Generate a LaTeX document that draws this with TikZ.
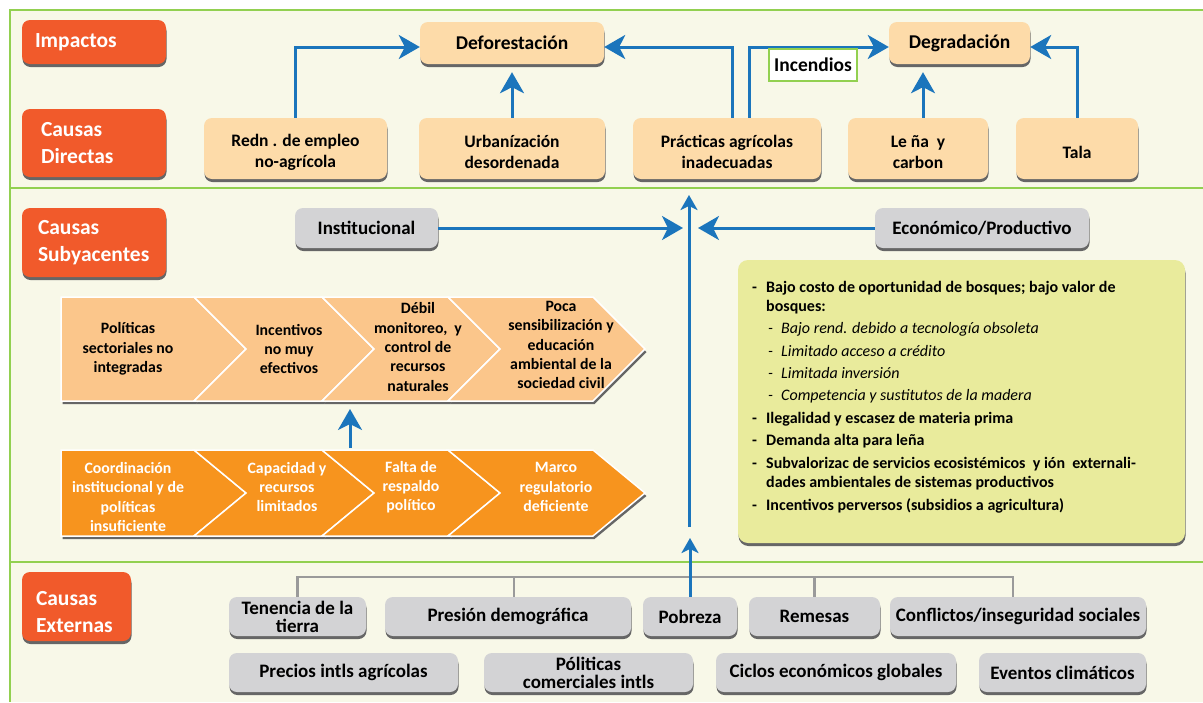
\documentclass[tikz,border=0pt]{standalone}
\usepackage{fontspec}
\setmainfont{Carlito}
\usetikzlibrary{arrows.meta,shadows}
\definecolor{bgc}{HTML}{F8F8E8}
\definecolor{gc}{HTML}{92D050}
\definecolor{lblc}{HTML}{F15A2B}
\definecolor{peachc}{HTML}{FDDBA9}
\definecolor{grayc}{HTML}{D3D3D5}
\definecolor{bluec}{HTML}{1B75BC}
\definecolor{chA}{HTML}{FBC68B}
\definecolor{chB}{HTML}{F7941E}
\definecolor{listc}{HTML}{E9EB9C}
\definecolor{shc}{HTML}{666666}
\definecolor{brc}{HTML}{9A9A9A}
\newcommand\dcstrut{\rule{0pt}{19.5pt}}
\newcommand\exstrut{\rule{0pt}{26pt}}
\tikzset{
  myshadow/.style={general shadow={fill=shc, shadow yshift=-3pt, shadow xshift=0.5pt}},
  gline/.style={draw=gc, line width=2pt},
  lbl/.style={rectangle, rounded corners=8pt, fill=lblc, text=white, align=left,
    font=\fontsize{21.5}{27}\selectfont\bfseries, inner ysep=0pt, myshadow},
  peach/.style={rectangle, rounded corners=8pt, fill=peachc, align=center, inner sep=0pt,
    font=\fontsize{17.5}{21}\selectfont\bfseries, myshadow},
  bigpeach/.style={peach, font=\fontsize{19.5}{22}\selectfont\bfseries},
  grayb/.style={rectangle, rounded corners=8pt, fill=grayc, align=center, inner sep=0pt,
    font=\fontsize{19}{18}\selectfont\bfseries, myshadow},
  chtxt/.style={align=center, inner sep=0pt, font=\fontsize{15.8}{19.3}\selectfont\bfseries},
  barrow/.style={draw=bluec, line width=3pt, -{Stealth[length=21pt,width=24pt,inset=6pt]}},
  sarrow/.style={draw=bluec, line width=3pt, -{Stealth[length=15pt,width=17pt,inset=4pt]}},
  grayl/.style={draw=brc, line width=2.5pt},
  lt/.style={anchor=base west, inner sep=0pt, font=\fontsize{16}{17}\selectfont\bfseries},
  lti/.style={anchor=base west, inner sep=0pt, font=\fontsize{16}{17}\selectfont\itshape},
}
\begin{document}
\begin{tikzpicture}[x=1pt,y=-1pt]
\useasboundingbox (0,0) rectangle (1203,702);
\fill[bgc] (10,10) rectangle (1203,702);
\draw[gline] (1203,10) -- (10,10) -- (10,702);
\draw[gline] (10,188) -- (1203,188);
\draw[gline] (10,562) -- (1203,562);

% section labels
\node[lbl, minimum width=144pt, minimum height=44pt, text width=118pt, inner xsep=13pt] (imp) at (94,42) {Impactos};
\node[lbl, minimum width=144pt, minimum height=68pt, text width=106pt, inner xsep=19pt] (dir) at (94,143) {Causas\\Directas};
\node[lbl, minimum width=144pt, minimum height=69pt, text width=112pt, inner xsep=16pt] (sub) at (94,242.5) {Causas\\Subyacentes};
\node[lbl, minimum width=109pt, minimum height=69pt, text width=81pt, inner xsep=14pt] (ext) at (76.5,606.5) {\exstrut Causas\\Externas};

% impacts and direct causes
\node[bigpeach, minimum width=184pt, minimum height=42pt] (def) at (512,43) {Deforestación};
\node[bigpeach, minimum width=141pt, minimum height=42pt] (deg) at (959.5,43) {Degradación};
\node[peach, minimum width=183pt, minimum height=61pt] (redn) at (295.5,148.5) {\dcstrut Redn . de empleo\\no-agrícola};
\node[peach, minimum width=186pt, minimum height=61pt] (urb) at (512,148.5) {\dcstrut Urbanízación\\desordenada};
\node[peach, minimum width=188pt, minimum height=61pt] (prac) at (727,148.5) {\dcstrut Prácticas agrícolas\\inadecuadas};
\node[peach, minimum width=140pt, minimum height=61pt] (lena) at (918,148.5) {\dcstrut Le ña\ \ y\\carbon};
\node[peach, minimum width=122pt, minimum height=61pt] (tala) at (1077,148.5) {\dcstrut Tala};

\draw[barrow] (redn.north) |- ([yshift=-4pt]def.west);
\draw[barrow, shorten >=8pt] (urb.north) -- (def.south);
\draw[barrow] ([xshift=5pt]prac.north) |- ([yshift=-4pt]def.east);
\draw[barrow] ([xshift=22pt]prac.north) |- ([yshift=-4pt]deg.west);
\draw[barrow, shorten >=8pt] ([xshift=5pt]lena.north) -- ([xshift=5pt]lena.north |- deg.south);
\draw[barrow] (tala.north) |- ([yshift=-4pt]deg.east);
\node[draw=gc, line width=1.2pt, fill=white, minimum width=88pt, minimum height=32pt, inner sep=0pt,
  font=\fontsize{19.5}{20}\selectfont\bfseries] (inc) at (813,65) {Incendios};

% underlying causes
\node[grayb, minimum width=143pt, minimum height=40pt] (inst) at (366.5,228) {Institucional};
\node[grayb, minimum width=214pt, minimum height=40pt] (econ) at (982,228) {Económico/Productivo};
\coordinate (vtop) at (689,195);
\coordinate (vbot) at (689,527);
\coordinate (cl) at (683,228);
\coordinate (cr) at (698,228);
\draw[sarrow] (vbot) -- (vtop);
\draw[barrow] (inst.east) -- (cl);
\draw[barrow] (econ.west) -- (cr);

% chevrons
\foreach \L/\R/\n in {61/194/0,194/322/52,322/448/52,448/593/52}{
  \fill[shc, shift={(1.5,3)}] (\L,297) -- (\R,297) -- (\R+52,349) -- (\R,401) -- (\L,401) -- (\L+\n,349) -- cycle;
  \fill[shc, shift={(1.5,3)}] (\L,450) -- (\R,450) -- (\R+52,493) -- (\R,536) -- (\L,536) -- (\L+\n,493) -- cycle;
}
\foreach \L/\R/\n in {61/194/0,194/322/52,322/448/52,448/593/52}{
  \filldraw[fill=chA, draw=white, line width=1.5pt] (\L,297) -- (\R,297) -- (\R+52,349) -- (\R,401) -- (\L,401) -- (\L+\n,349) -- cycle;
  \filldraw[fill=chB, draw=white, line width=1.5pt] (\L,450) -- (\R,450) -- (\R+52,493) -- (\R,536) -- (\L,536) -- (\L+\n,493) -- cycle;
}
\node[chtxt] (a1) at (128,349) {Políticas\\sectoriales no\\integradas};
\node[chtxt] (a2) at (289,349) {Incentivos\\no muy\\efectivos};
\node[chtxt] (a3) at (418,347) {Débil\\monitoreo,\ \ y\\control de\\recursos\\naturales};
\node[chtxt] (a4) at (561,345) {Poca\\sensibilización y\\educación\\ambiental de la\\sociedad civil};
\node[chtxt, text=white] (b1) at (128,497) {Coordinación\\institucional y de\\políticas\\insuficiente};
\node[chtxt, text=white] (b2) at (287,487) {Capacidad y\\recursos\\limitados};
\node[chtxt, text=white] (b3) at (411,487) {Falta de\\respaldo\\político};
\node[chtxt, text=white] (b4) at (556,487) {Marco\\regulatorio\\deficiente};
\coordinate (r2) at (350,448);
\coordinate (r1) at (350,409);
\draw[barrow] (r2) -- (r1);

% list box
\node[rectangle, rounded corners=10pt, fill=listc, minimum width=447pt, minimum height=283pt, myshadow] (lst) at (961.5,401.5) {};
\node[lt] (d1) at (752,292) {-};
\node[lt] (t1) at (766,292) {Bajo costo de oportunidad de bosques; bajo valor de};
\node[lt] (t1b) at (766,311) {bosques:};
\node[lti] (d1a) at (768,333) {-};
\node[lti] (s1) at (781,333) {Bajo rend. debido a tecnología obsoleta};
\node[lti] (d1b) at (768,356) {-};
\node[lti] (s2) at (781,356) {Limitado acceso a crédito};
\node[lti] (d1c) at (768,378) {-};
\node[lti] (s3) at (781,378) {Limitada inversión};
\node[lti] (d1d) at (768,400) {-};
\node[lti] (s4) at (781,400) {Competencia y sustitutos de la madera};
\node[lt] (d2) at (752,423) {-};
\node[lt] (t2) at (766,423) {Ilegalidad y escasez de materia prima};
\node[lt] (d3) at (752,445) {-};
\node[lt] (t3) at (766,445) {Demanda alta para leña};
\node[lt] (d4) at (752,468) {-};
\node[lt] (t4) at (766,468) {Subvalorizac de servicios ecosistémicos\ \ y ión\ \ externali-};
\node[lt] (t4b) at (766,487) {dades ambientales de sistemas productivos};
\node[lt] (d5) at (752,510) {-};
\node[lt] (t5) at (766,510) {Incentivos perversos (subsidios a agricultura)};

% external causes
\node[grayb, minimum width=137pt, minimum height=39pt] (ten) at (297.5,616.5) {Tenencia de la\\tierra};
\node[grayb, minimum width=246pt, minimum height=39pt] (pres) at (508,616.5) {Presión demográfica};
\node[grayb, minimum width=94pt, minimum height=39pt] (pob) at (690,616.5) {Pobreza};
\node[grayb, minimum width=131pt, minimum height=39pt] (rem) at (814.5,616.5) {Remesas};
\node[grayb, minimum width=256pt, minimum height=39pt] (conf) at (1018,616.5) {Conflictos/inseguridad sociales};
\node[grayb, minimum width=229pt, minimum height=39pt] (prec) at (343.5,672.5) {Precios intls agrícolas};
\node[grayb, minimum width=209pt, minimum height=39pt] (polc) at (588.5,672.5) {Póliticas\\comerciales intls};
\node[grayb, minimum width=240pt, minimum height=39pt] (cic) at (836,672.5) {Ciclos económicos globales};
\node[grayb, minimum width=167pt, minimum height=39pt] (eve) at (1062.5,672.5) {Eventos climáticos};

\coordinate (brk) at (600,577);
\coordinate (ptop) at (690,538);
\draw[grayl] (ten.north) |- (brk) -| ([xshift=-5pt]conf.north);
\draw[grayl] ([xshift=6pt]pres.north) -- ([xshift=6pt]pres.north |- brk);
\draw[grayl] (rem.north) -- (rem.north |- brk);
\draw[sarrow] (pob.north) -- (ptop);
\end{tikzpicture}
\end{document}
